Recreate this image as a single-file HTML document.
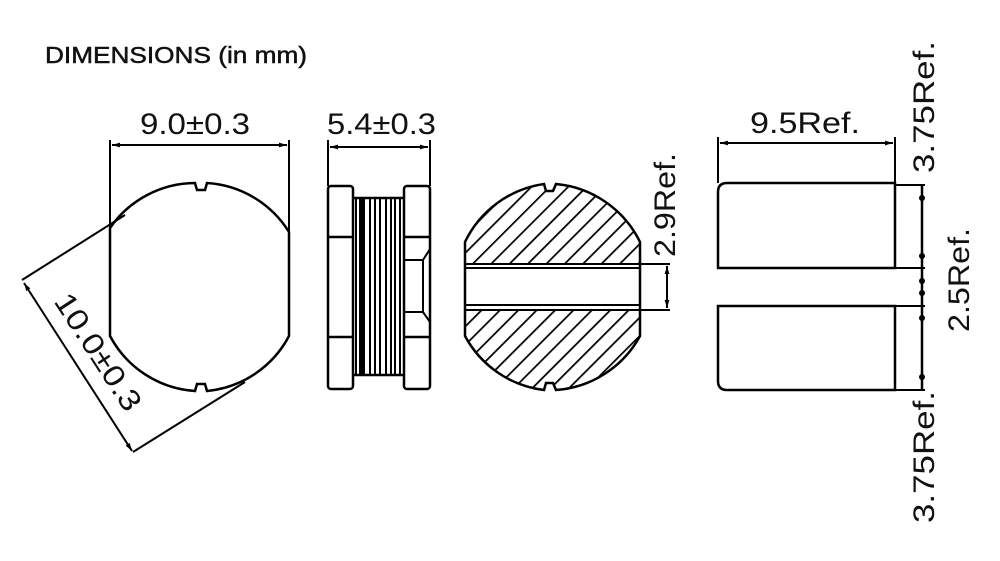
<!DOCTYPE html>
<html><head><meta charset="utf-8"><style>
html,body{margin:0;padding:0;background:#fff;}
svg{display:block}
text{font-family:"Liberation Sans",sans-serif;fill:#111}
</style></head><body>
<svg width="1000" height="561" viewBox="0 0 1000 561" xmlns="http://www.w3.org/2000/svg">
<defs>
<marker id="a" viewBox="0 0 10 10" refX="10" refY="5" markerWidth="10" markerHeight="8" orient="auto-start-reverse" markerUnits="userSpaceOnUse"><path d="M0,2 L10,5 L0,8 z" fill="#000"/></marker>
<pattern id="h" patternUnits="userSpaceOnUse" width="13" height="13" patternTransform="rotate(45)"><line x1="0" y1="0" x2="0" y2="13" stroke="#000" stroke-width="3.5"/></pattern>
<clipPath id="cs"><path d="M465,242 A104,104 0 0 1 544,184 L546,191 L553,191 L556,184 A104,104 0 0 1 640,242 L640,336 A104,104 0 0 1 556,390 L553,383 L546,383 L544,390 A104,104 0 0 1 465,336 Z"/></clipPath>
</defs>
<text x="45" y="63" font-size="23" textLength="262" lengthAdjust="spacingAndGlyphs" stroke="#111" stroke-width="0.5">DIMENSIONS (in mm)</text>
<g fill="none" stroke="#000" stroke-width="2.5">
<path d="M110,228 A104,104 0 0 1 195,183 L197,190 L205,190 L207,183 A104,104 0 0 1 289,232 L289,336 A104,104 0 0 1 207,391 L205,384 L197,384 L195,391 A104,104 0 0 1 110,336 Z"/>
<line x1="110" y1="140" x2="110" y2="228" stroke-width="2"/>
<line x1="289" y1="140" x2="289" y2="232" stroke-width="2"/>
<line x1="112" y1="145" x2="287" y2="145" stroke-width="2" marker-start="url(#a)" marker-end="url(#a)"/>
<line x1="125" y1="215" x2="22" y2="280" stroke-width="2"/>
<line x1="24" y1="283" x2="132" y2="451" stroke-width="2" marker-start="url(#a)" marker-end="url(#a)"/>
<line x1="133" y1="452" x2="245" y2="382" stroke-width="2"/>
<rect x="328" y="186" width="25" height="203" rx="3"/>
<rect x="404" y="186" width="26" height="203" rx="3"/>
<line x1="328" y1="237" x2="353" y2="237"/>
<line x1="328" y1="337" x2="353" y2="337"/>
<line x1="404" y1="237" x2="430" y2="237"/>
<line x1="404" y1="337" x2="430" y2="337"/>
<path d="M404,260 L423,260 L430,249 M404,312 L423,312 L430,322 M423,260 L423,312" stroke-width="2"/>
<path d="M353,198 L404,198 M353,375 L404,375" />
<g stroke-width="2"><line x1="356" y1="198" x2="356" y2="375"/><line x1="370" y1="198" x2="370" y2="375"/><line x1="375" y1="198" x2="375" y2="375"/><line x1="380" y1="198" x2="380" y2="375"/><line x1="386" y1="198" x2="386" y2="375"/><line x1="391" y1="198" x2="391" y2="375"/><line x1="395" y1="198" x2="395" y2="375"/><line x1="400" y1="198" x2="400" y2="375"/></g>
<rect x="359" y="198" width="6" height="177" fill="#000" stroke="none"/>
<line x1="328" y1="140" x2="328" y2="186" stroke-width="2"/>
<line x1="430" y1="140" x2="430" y2="186" stroke-width="2"/>
<line x1="330" y1="147" x2="428" y2="147" stroke-width="2" marker-start="url(#a)" marker-end="url(#a)"/>
</g>
<g clip-path="url(#cs)">
<rect x="440" y="160" width="230" height="260" fill="url(#h)"/>
<rect x="460" y="263" width="185" height="48" fill="#fff"/>
</g>
<g fill="none" stroke="#000" stroke-width="2.5">
<path d="M465,242 A104,104 0 0 1 544,184 L546,191 L553,191 L556,184 A104,104 0 0 1 640,242 L640,336 A104,104 0 0 1 556,390 L553,383 L546,383 L544,390 A104,104 0 0 1 465,336 Z"/>
<line x1="465" y1="264" x2="670" y2="264" stroke-width="2"/>
<line x1="465" y1="268" x2="640" y2="268" stroke-width="2"/>
<line x1="465" y1="305" x2="640" y2="305" stroke-width="2"/>
<line x1="465" y1="310" x2="670" y2="310" stroke-width="2"/>
<line x1="667" y1="266" x2="667" y2="308" stroke-width="2" marker-start="url(#a)" marker-end="url(#a)"/>
<path d="M727,183 L895,183 L895,268 L718,268 L718,192 Q718,183 727,183 Z"/>
<path d="M718,306 L895,306 L895,390 L727,390 Q718,390 718,381 Z"/>
<line x1="718" y1="137" x2="718" y2="183" stroke-width="2"/>
<line x1="895" y1="137" x2="895" y2="183" stroke-width="2"/>
<line x1="720" y1="143" x2="893" y2="143" stroke-width="2" marker-start="url(#a)" marker-end="url(#a)"/>
<g stroke-width="2">
<line x1="895" y1="185" x2="925" y2="185"/><line x1="895" y1="268" x2="925" y2="268"/>
<line x1="895" y1="306" x2="925" y2="306"/><line x1="895" y1="390" x2="925" y2="390"/>
</g>
<line x1="922" y1="185" x2="922" y2="390" stroke-width="2.5"/>
</g>
<g fill="#000">
<circle cx="922" cy="198" r="3"/><circle cx="922" cy="256" r="3"/><circle cx="922" cy="281" r="3"/><circle cx="922" cy="293" r="3"/><circle cx="922" cy="318" r="3"/><circle cx="922" cy="377" r="3"/>
</g>
<g font-size="30">
<text x="140" y="134" textLength="110" lengthAdjust="spacingAndGlyphs">9.0±0.3</text>
<text x="327" y="134" textLength="109" lengthAdjust="spacingAndGlyphs">5.4±0.3</text>
<text x="750" y="133" textLength="110" lengthAdjust="spacingAndGlyphs">9.5Ref.</text>
<text transform="translate(98,352) rotate(57)" x="-67" y="10" textLength="134" lengthAdjust="spacingAndGlyphs">10.0±0.3</text>
<text transform="translate(675,205) rotate(-90)" x="-52" textLength="104" lengthAdjust="spacingAndGlyphs">2.9Ref.</text>
<text transform="translate(934,107) rotate(-90)" x="-66" textLength="132" lengthAdjust="spacingAndGlyphs">3.75Ref.</text>
<text transform="translate(969,280) rotate(-90)" x="-52" textLength="104" lengthAdjust="spacingAndGlyphs">2.5Ref.</text>
<text transform="translate(934,457) rotate(-90)" x="-66" textLength="132" lengthAdjust="spacingAndGlyphs">3.75Ref.</text>
</g>
</svg>
</body></html>
